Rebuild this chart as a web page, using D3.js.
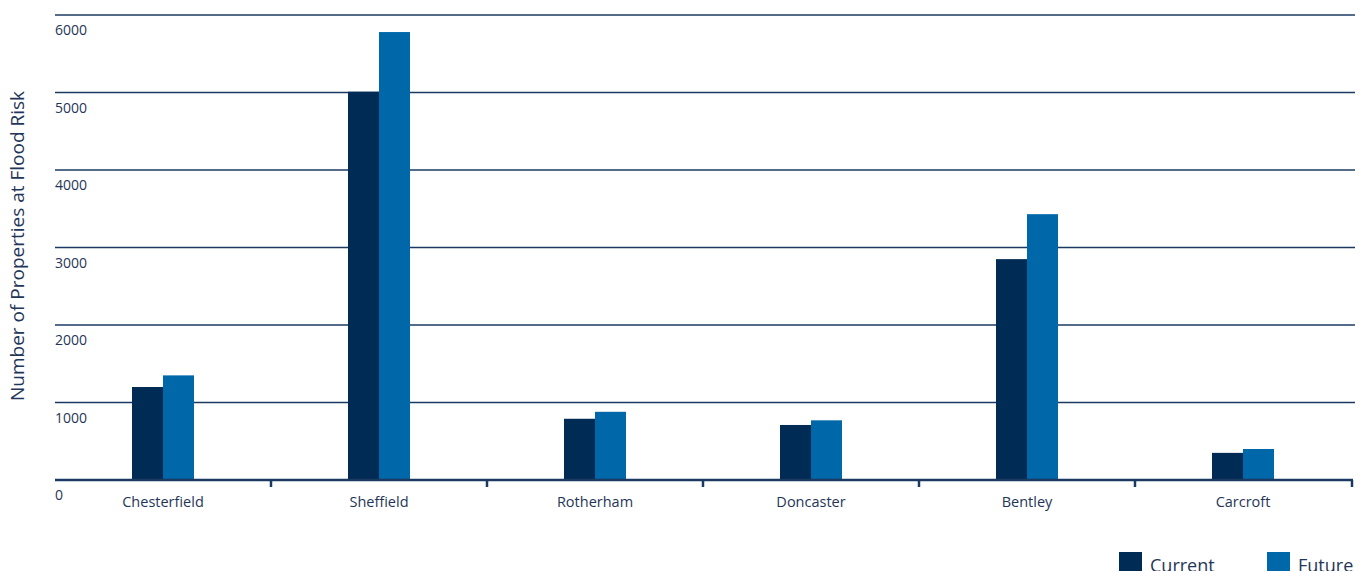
<!DOCTYPE html>
<html>
<head>
    <title>Properties at Flood Risk</title>
    <script src="https://d3js.org/d3.v7.min.js"></script>
    <style>
        body { margin: 0; background: #fff; }
        .tick-label { font-size: 14px; fill: #1f3658; font-family: 'Open Sans'; }
        .cat-label { font-size: 14.5px; fill: #1f3658; font-family: 'Open Sans'; }
        .axis-title { font-size: 19px; fill: #1f3658; font-family: 'Open Sans'; }
        .legend-label { font-size: 18px; fill: #1f3658; font-family: 'Open Sans'; }
    </style>
</head>
<body>
    <svg width="1367" height="571"></svg>
    <script>
        // data
        const towns = ["Chesterfield", "Sheffield", "Rotherham", "Doncaster", "Bentley", "Carcroft"];
        const current = [1200, 5010, 790, 710, 2850, 350];
        const future = [1350, 5780, 880, 770, 3430, 400];
        const series = ["Current", "Future"];
        const yTicks = [0, 1000, 2000, 3000, 4000, 5000, 6000];

        const colors = { Current: "#002b55", Future: "#0067a9" };
        const lineColor = "#1b3a62";

        const svg = d3.select("svg");

        let x = d3.scaleBand()
                  .domain(towns)
                  .range([55, 1351]);

        let y = d3.scaleLinear()
                  .domain([0, 6000])
                  .range([480, 15]);

        // gridlines + labels (labels sit just under each line)
        yTicks.forEach(t => {
            if (t > 0) {
                svg.append("line")
                   .attr("x1", 55).attr("x2", 1355)
                   .attr("y1", y(t)).attr("y2", y(t))
                   .attr("stroke", lineColor)
                   .attr("stroke-width", 1.6);
            }
            svg.append("text")
               .attr("class", "tick-label")
               .attr("x", 55)
               .attr("y", y(t) + 20)
               .text(t);
        });

        // bars
        let inner = d3.scaleBand().domain(series).range([-31, 31]);
        towns.forEach((town, i) => {
            let cx = x(town) + x.bandwidth() / 2;
            [["Current", current[i]], ["Future", future[i]]].forEach(([s, v]) => {
                svg.append("rect")
                   .attr("x", cx + inner(s))
                   .attr("y", y(v))
                   .attr("width", inner.bandwidth())
                   .attr("height", y(0) - y(v))
                   .attr("fill", colors[s]);
            });
        });

        // baseline axis with category ticks
        svg.append("g")
           .attr("transform", `translate(0,${y(0)})`)
           .call(d3.axisBottom(x).tickSize(0).tickPadding(17))
           .call(g => g.select(".domain").remove())
           .selectAll("text")
           .attr("class", "cat-label")
           .attr("font-family", null)
           .attr("font-size", null);

        svg.append("line")
           .attr("x1", 55).attr("x2", 1353)
           .attr("y1", y(0)).attr("y2", y(0))
           .attr("stroke", lineColor)
           .attr("stroke-width", 2.5);

        towns.forEach((town, i) => {
            if (i === 0) return;
            svg.append("line")
               .attr("x1", x(town)).attr("x2", x(town))
               .attr("y1", y(0)).attr("y2", y(0) + 7)
               .attr("stroke", lineColor).attr("stroke-width", 2.5);
        });
        svg.append("line")
           .attr("x1", 1352).attr("x2", 1352)
           .attr("y1", y(0)).attr("y2", y(0) + 7)
           .attr("stroke", lineColor).attr("stroke-width", 2.5);

        // y title
        svg.append("text")
           .attr("class", "axis-title")
           .attr("transform", "translate(24,246) rotate(-90)")
           .attr("text-anchor", "middle")
           .text("Number of Properties at Flood Risk");

        // legend
        let legX = { Current: 1119, Future: 1267 };
        series.forEach(s => {
            svg.append("rect")
               .attr("x", legX[s]).attr("y", 552)
               .attr("width", 23).attr("height", 22)
               .attr("fill", colors[s]);
            svg.append("text")
               .attr("class", "legend-label")
               .attr("x", legX[s] + 31)
               .attr("y", 572)
               .text(s);
        });
    </script>
</body>
</html>
